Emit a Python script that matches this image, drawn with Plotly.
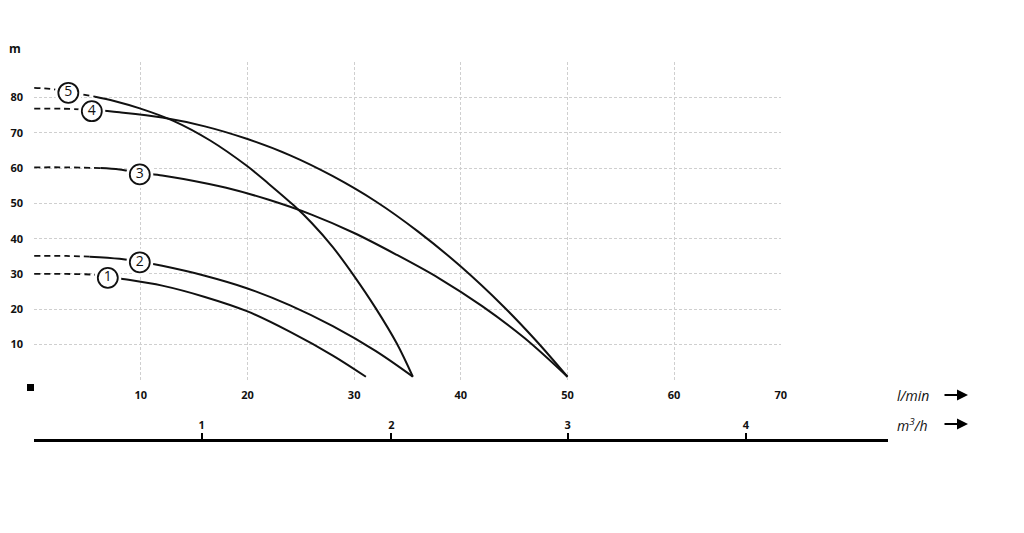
import plotly.graph_objects as go

# ---------------- data ----------------
# flow in l/min, head in m
c1_dash_q = [0, 3, 5.5, 6.9]
c1_dash_h = [30.0, 30.0, 29.8, 29.2]
c1_q = [6.9, 8.3, 12, 16, 20, 24, 28, 31.1]
c1_h = [29.2, 28.6, 26.7, 23.5, 19.4, 13.6, 6.9, 0.9]

c2_dash_q = [0, 3, 5.2]
c2_dash_h = [35.1, 35.1, 34.9]
c2_q = [5.2, 8, 9.9, 12, 16, 20, 24, 28, 32, 35.5]
c2_h = [34.9, 34.3, 33.5, 32.3, 29.5, 25.9, 21.1, 15.2, 8.2, 0.9]

c3_dash_q = [0, 3, 6.2]
c3_dash_h = [60.2, 60.2, 60.0]
c3_q = [6.2, 8, 9.9, 12, 14, 18, 22, 26, 30, 34, 38, 42, 46, 50]
c3_h = [60.0, 59.6, 58.7, 57.9, 56.9, 54.4, 51.0, 46.8, 41.6, 35.4, 28.7, 20.9, 11.8, 0.9]

c4_dash_q = [0, 2.5, 5.4]
c4_dash_h = [76.8, 76.8, 76.5]
c4_q = [5.4, 8, 12, 16, 20, 24, 28, 32, 36, 40, 44, 47, 50]
c4_h = [76.5, 75.8, 74.3, 71.8, 68.2, 63.6, 57.7, 50.6, 42.0, 32.1, 20.8, 11.3, 0.9]

c5_dash_q = [0, 1.5, 3.2, 4.4, 5.7]
c5_dash_h = [82.7, 82.4, 81.6, 80.9, 80.2]
c5_q = [5.7, 7.5, 9.9, 13.1, 16.5, 19.9, 22, 24.3, 26, 28, 30, 32, 34, 35.5]
c5_h = [80.2, 79.0, 76.9, 73.3, 67.8, 60.7, 55.5, 49.5, 44.5, 37.6, 29.4, 20.4, 10.3, 0.9]

label_q = [6.9, 9.9, 9.9, 5.4, 3.2]
label_h = [28.9, 33.3, 58.2, 76.1, 81.3]
label_txt = ["1", "2", "3", "4", "5"]

x_ticks = [0, 10, 20, 30, 40, 50, 60, 70]
x_ticktext = ["", "10", "20", "30", "40", "50", "60", "70"]
y_ticks = [0, 10, 20, 30, 40, 50, 60, 70, 80, 90]
y_ticktext = ["", "10", "20", "30", "40", "50", "60", "70", "80", ""]

# m3/h scale: tick positions expressed in l/min, as placed in the picture
m3h_pos = [15.7, 33.5, 50.0, 66.7]
m3h_text = ["1", "2", "3", "4"]

# ---------------- figure ----------------
FONT = "Open Sans"
BLACK = "#111111"
GRID = "#cfcfcf"

fig = go.Figure()

dashed = [(c1_dash_q, c1_dash_h), (c2_dash_q, c2_dash_h), (c3_dash_q, c3_dash_h),
          (c4_dash_q, c4_dash_h), (c5_dash_q, c5_dash_h)]
solid = [(c1_q, c1_h), (c2_q, c2_h), (c3_q, c3_h), (c4_q, c4_h), (c5_q, c5_h)]

for q, h in dashed:
    fig.add_trace(go.Scatter(x=q, y=h, mode="lines", showlegend=False, hoverinfo="skip",
                             line=dict(color=BLACK, width=1.8, dash="6px,4px", shape="spline")))
for q, h in solid:
    fig.add_trace(go.Scatter(x=q, y=h, mode="lines", showlegend=False, hoverinfo="skip",
                             line=dict(color=BLACK, width=2, shape="spline", smoothing=1.0)))

# white halo around the numbered circles
fig.add_trace(go.Scatter(x=label_q, y=label_h, mode="markers", showlegend=False, hoverinfo="skip",
                         marker=dict(symbol="circle", size=27, color="white", line=dict(width=0))))
fig.add_trace(go.Scatter(x=label_q, y=label_h, mode="markers+text", text=label_txt,
                         textposition="middle center", showlegend=False, hoverinfo="skip",
                         textfont=dict(family=FONT, size=14, color=BLACK),
                         marker=dict(symbol="circle", size=20, color="white",
                                     line=dict(width=1.8, color=BLACK))))

# empty trace so that the m3/h axis subplot is created
fig.add_trace(go.Scatter(x=[None], y=[None], xaxis="x2", yaxis="y2", mode="lines",
                         showlegend=False, hoverinfo="skip"))

# The page body has an 8px margin, so the figure is laid out 8px smaller/shifted.
PAGE_OFF = 8
W, H = 1024 - PAGE_OFF, 533 - PAGE_OFF
# reference-pixel geometry
REF_L, REF_T, REF_PAPER_R, REF_PAPER_B = 34, 62, 888, 443
REF_PLOT_B, REF_X70 = 380, 781
L = REF_L - PAGE_OFF
T = REF_T - PAGE_OFF
R = W - (REF_PAPER_R - PAGE_OFF)
B = H - (REF_PAPER_B - PAGE_OFF)
paper_w = REF_PAPER_R - REF_L
paper_h = REF_PAPER_B - REF_T
px_per_unit = (REF_X70 - REF_L) / 70.0

EPS = 0.02  # tiny range extension so that edge gridlines are drawn

fig.update_layout(
    width=W, height=H,
    margin=dict(l=L, r=R, t=T, b=B, pad=0, autoexpand=False),
    paper_bgcolor="white", plot_bgcolor="rgba(0,0,0,0)",
    font=dict(family=FONT, color=BLACK),
    xaxis=dict(domain=[0, (REF_X70 - REF_L) / paper_w], range=[-EPS, 70 + EPS], anchor="y",
               tickvals=x_ticks, ticktext=x_ticktext, showgrid=True, gridcolor=GRID,
               gridwidth=1, griddash="3px,2px", zeroline=False, showline=False, ticks="",
               tickfont=dict(family=FONT, size=11, weight="bold", color=BLACK),
               ticklabelstandoff=7, fixedrange=True, automargin=False),
    yaxis=dict(domain=[(REF_PAPER_B - REF_PLOT_B) / paper_h, 1], range=[-EPS * 1.3, 90 + EPS * 1.3],
               anchor="x", tickvals=y_ticks, ticktext=y_ticktext, showgrid=True, gridcolor=GRID,
               gridwidth=1, griddash="3px,2px", zeroline=False, showline=False, ticks="",
               tickfont=dict(family=FONT, size=11, weight="bold", color=BLACK),
               ticklabelstandoff=10, fixedrange=True, automargin=False),
    xaxis2=dict(domain=[0, 1], range=[0, paper_w / px_per_unit], anchor="y2",
                side="top", showline=True, linewidth=3, linecolor="black", showgrid=False,
                zeroline=False, ticks="outside", ticklen=6, tickwidth=1.5, tickcolor="black",
                tickvals=m3h_pos, ticktext=m3h_text,
                tickfont=dict(family=FONT, size=11, weight="bold", color=BLACK),
                fixedrange=True, automargin=False),
    yaxis2=dict(domain=[0, 0.002], anchor="x2", showgrid=False, showline=False,
                showticklabels=False, ticks="", zeroline=False, range=[0, 1],
                fixedrange=True, automargin=False),
)


def px_x(px):
    return (px - REF_L) / paper_w


def px_y(py):
    return (REF_PAPER_B - py) / paper_h


def note(px, py, text, **font):
    fig.add_annotation(x=px_x(px), y=px_y(py), xref="paper", yref="paper", text=text,
                       xanchor="center", yanchor="middle", showarrow=False,
                       font=dict(family=FONT, color=BLACK, **font))


# origin marker: small black square below-left of the origin
fig.add_shape(type="rect", xref="paper", yref="paper",
              x0=px_x(27), x1=px_x(34), y0=px_y(391), y1=px_y(384),
              fillcolor="black", line=dict(width=0))

note(15, 49, "m", size=12, weight="bold")
note(913, 395, "<i>l/min</i>", size=14)
note(913, 425, "<i>m<sup>3</sup>/h</i>", size=14)
for ya in (395, 424):
    fig.add_annotation(x=px_x(968), y=px_y(ya), xref="paper", yref="paper", text="",
                       showarrow=True, ax=-25, ay=0, arrowhead=2, arrowsize=1.1,
                       arrowwidth=2, arrowcolor="black", standoff=0)

fig.write_html("out.html")
